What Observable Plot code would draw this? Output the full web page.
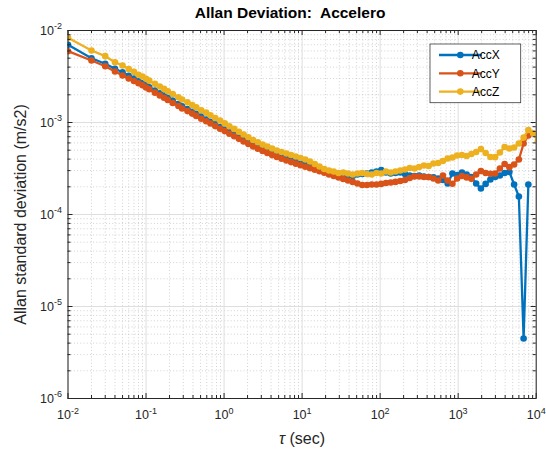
<!DOCTYPE html>
<html><head><meta charset="utf-8">
<script src="https://cdn.jsdelivr.net/npm/d3@7"></script>
<script src="https://cdn.jsdelivr.net/npm/@observablehq/plot@0.6"></script>
<style>body{margin:0;background:#fff;}</style>
</head><body><div id="chart"></div>
<script>
const tau = [0.01,0.02,0.03,0.04,0.05,0.06,0.07,0.08,0.09,0.10,0.11,0.13,0.15,0.17,0.19,0.22,0.26,0.29,0.34,0.39,
0.44,0.51,0.59,0.67,0.77,0.89,1.02,1.17,1.35,1.55,1.78,2.05,2.36,2.71,3.12,3.59,4.13,4.75,5.46,6.28,
7.22,8.31,9.55,10.99,12.64,14.54,16.72,19.23,22.13,25.45,29.28,33.68,38.74,44.57,51.26,58.97,67.83,78.03,89.76,103.25,
118.77,136.62,157.16,180.79,207.97,239.24,275.21,316.58,364.18,418.93,481.92,554.38,637.73,733.6,843.9,970.78,1116.74,1284.64,1477.78,1699.96,
1955.55,2249.57,2587.78,2976.85,3424.42,3939.27,4531.53,5212.83,5996.56,6898.12,7935.25,9128.3,10485.76];

const accX = [6.99e-3,5.00e-3,4.35e-3,3.84e-3,3.52e-3,3.22e-3,3.00e-3,2.80e-3,2.67e-3,2.53e-3,2.41e-3,2.22e-3,2.08e-3,1.96e-3,1.85e-3,1.73e-3,1.59e-3,1.50e-3,1.40e-3,1.31e-3,
1.24e-3,1.16e-3,1.08e-3,1.02e-3,9.54e-4,8.91e-4,8.37e-4,7.82e-4,7.33e-4,6.85e-4,6.40e-4,6.02e-4,5.64e-4,5.34e-4,5.06e-4,4.82e-4,4.59e-4,4.37e-4,4.21e-4,4.05e-4,
3.91e-4,3.77e-4,3.63e-4,3.50e-4,3.37e-4,3.24e-4,3.12e-4,3.01e-4,2.90e-4,2.83e-4,2.72e-4,2.69e-4,2.65e-4,2.62e-4,2.72e-4,2.76e-4,2.79e-4,2.86e-4,2.93e-4,3.05e-4,
2.86e-4,2.79e-4,2.83e-4,2.86e-4,2.76e-4,2.65e-4,2.62e-4,2.65e-4,2.59e-4,2.56e-4,2.53e-4,2.46e-4,2.37e-4,2.17e-4,2.79e-4,2.69e-4,2.86e-4,2.72e-4,2.56e-4,2.17e-4,
1.92e-4,2.15e-4,2.40e-4,2.56e-4,2.65e-4,2.83e-4,2.90e-4,2.12e-4,1.57e-4,4.49e-6,2.12e-4,null,null];

const accY = [5.96e-3,4.72e-3,4.09e-3,3.58e-3,3.24e-3,3.01e-3,2.83e-3,2.67e-3,2.54e-3,2.40e-3,2.30e-3,2.11e-3,1.97e-3,1.86e-3,1.76e-3,1.63e-3,1.51e-3,1.42e-3,1.33e-3,1.25e-3,
1.18e-3,1.10e-3,1.03e-3,9.75e-4,9.14e-4,8.56e-4,8.06e-4,7.56e-4,7.08e-4,6.64e-4,6.22e-4,5.84e-4,5.48e-4,5.19e-4,4.91e-4,4.66e-4,4.42e-4,4.21e-4,4.03e-4,3.86e-4,
3.71e-4,3.57e-4,3.43e-4,3.30e-4,3.18e-4,3.06e-4,2.95e-4,2.84e-4,2.72e-4,2.62e-4,2.53e-4,2.43e-4,2.34e-4,2.26e-4,2.17e-4,2.09e-4,2.09e-4,2.12e-4,2.12e-4,2.15e-4,
2.20e-4,2.23e-4,2.26e-4,2.31e-4,2.37e-4,2.49e-4,2.59e-4,2.59e-4,2.56e-4,2.56e-4,2.46e-4,2.34e-4,2.65e-4,2.34e-4,2.16e-4,2.46e-4,2.62e-4,2.53e-4,2.44e-4,2.72e-4,
2.97e-4,2.83e-4,2.77e-4,2.79e-4,3.16e-4,3.54e-4,3.27e-4,3.50e-4,3.96e-4,5.91e-4,7.22e-4,null,null];

const accZ = [8.33e-3,6.06e-3,5.26e-3,4.52e-3,4.17e-3,3.81e-3,3.55e-3,3.31e-3,3.16e-3,2.99e-3,2.85e-3,2.63e-3,2.46e-3,2.32e-3,2.19e-3,2.04e-3,1.88e-3,1.78e-3,1.66e-3,1.55e-3,
1.46e-3,1.36e-3,1.28e-3,1.20e-3,1.12e-3,1.05e-3,9.78e-4,9.12e-4,8.52e-4,7.94e-4,7.41e-4,6.92e-4,6.45e-4,6.09e-4,5.75e-4,5.48e-4,5.22e-4,4.96e-4,4.78e-4,4.60e-4,
4.43e-4,4.27e-4,4.11e-4,3.96e-4,3.77e-4,3.54e-4,3.32e-4,3.12e-4,3.01e-4,2.93e-4,2.83e-4,2.86e-4,2.79e-4,2.72e-4,2.79e-4,2.83e-4,2.76e-4,2.72e-4,2.83e-4,2.79e-4,
2.93e-4,2.86e-4,2.93e-4,3.01e-4,3.08e-4,3.20e-4,3.16e-4,3.28e-4,3.41e-4,3.37e-4,3.58e-4,3.63e-4,3.82e-4,4.06e-4,4.17e-4,4.38e-4,4.43e-4,4.32e-4,4.55e-4,4.78e-4,
5.15e-4,4.66e-4,4.22e-4,4.20e-4,4.72e-4,5.42e-4,5.22e-4,5.35e-4,5.91e-4,6.87e-4,8.29e-4,7.65e-4,6.26e-4];

const seriesNames = ["AccX", "AccY", "AccZ"];
const seriesColors = ["#0072BD", "#D95319", "#EDB120"];
const xTicks = [1e-2, 1e-1, 1, 10, 100, 1000, 1e4];
const yTicks = [1e-6, 1e-5, 1e-4, 1e-3, 1e-2];
const xTickLabels = ["10^-2", "10^-1", "10^0", "10^1", "10^2", "10^3", "10^4"];
const yTickLabels = ["10^-6", "10^-5", "10^-4", "10^-3", "10^-2"];
const titleText = "Allan Deviation:  Accelero";
const xLabelText = "τ (sec)";
const yLabelText = "Allan standard deviation (m/s2)";

const W = 546, H = 450, mt = 30, mb = 52, ml = 67.5, mr = 10.3;
const fh = H - mt - mb, fw = W - ml - mr;
const font = '"Liberation Sans", Arial, Helvetica, sans-serif';

const isDecade = v => Math.abs(Math.log10(v) - Math.round(Math.log10(v))) < 1e-9;
const minorX = d3.scaleLog().domain([1e-2, 1e4]).ticks().filter(v => !isDecade(v));
const minorY = d3.scaleLog().domain([1e-6, 1e-2]).ticks().filter(v => !isDecade(v));

const seriesData = [accX, accY, accZ].map((vals, i) =>
  tau.map((t, j) => ({tau: t, value: vals[j], series: seriesNames[i]})).filter(d => d.value != null));

const axisCol = "#262626";
const marks = [
  Plot.ruleX(minorX, {stroke: "#c6c6c6", strokeWidth: 0.8, strokeDasharray: "1,2.2"}),
  Plot.ruleY(minorY, {stroke: "#c6c6c6", strokeWidth: 0.8, strokeDasharray: "1,2.2"}),
  Plot.ruleX(xTicks, {stroke: "#dedede", strokeWidth: 1}),
  Plot.ruleY(yTicks, {stroke: "#dedede", strokeWidth: 1}),
];
seriesData.forEach((d, i) => {
  marks.push(Plot.line(d, {x: "tau", y: "value", stroke: seriesColors[i], strokeWidth: 2.3, clip: true}));
  marks.push(Plot.dot(d, {x: "tau", y: "value", fill: seriesColors[i], r: 3.3, clip: true}));
});
marks.push(
  Plot.tickX(xTicks, {x: d => d, insetTop: fh - 5, stroke: axisCol}),
  Plot.tickX(xTicks, {x: d => d, insetBottom: fh - 5, stroke: axisCol}),
  Plot.tickX(minorX, {x: d => d, insetTop: fh - 3, stroke: axisCol}),
  Plot.tickX(minorX, {x: d => d, insetBottom: fh - 3, stroke: axisCol}),
  Plot.tickY(yTicks, {y: d => d, insetRight: fw - 5, stroke: axisCol}),
  Plot.tickY(yTicks, {y: d => d, insetLeft: fw - 5, stroke: axisCol}),
  Plot.tickY(minorY, {y: d => d, insetRight: fw - 3, stroke: axisCol}),
  Plot.tickY(minorY, {y: d => d, insetLeft: fw - 3, stroke: axisCol}),
  Plot.frame({stroke: axisCol, strokeWidth: 1}),
  Plot.axisX(xTicks, {label: null, tickSize: 0, tickPadding: 12, fontSize: 12.5, tickFormat: d => xTickLabels[xTicks.indexOf(d)], fill: axisCol}),
  Plot.axisY(yTicks, {label: null, tickSize: 0, tickPadding: 6, fontSize: 12.5, tickFormat: d => yTickLabels[yTicks.indexOf(d)], fill: axisCol}),
  Plot.text([titleText], {frameAnchor: "top", lineAnchor: "middle", dy: -17, dx: -12, fontSize: 15.5, fontWeight: "bold", fill: "#000"}),
  Plot.text([xLabelText], {frameAnchor: "bottom", lineAnchor: "middle", dy: 40, fontSize: 16, fill: axisCol}),
  Plot.text([yLabelText], {frameAnchor: "left", textAnchor: "middle", lineAnchor: "middle", rotate: -90, dx: -47.5, fontSize: 16, fill: axisCol})
);

const chart = Plot.plot({
  width: W, height: H, marginTop: mt, marginBottom: mb, marginLeft: ml, marginRight: mr,
  x: {type: "log", domain: [1e-2, 1e4], label: null},
  y: {type: "log", domain: [1e-6, 1e-2], label: null},
  style: {fontFamily: font, background: "#fff", overflow: "visible"},
  marks
});
document.getElementById("chart").appendChild(chart);

const svg = d3.select(chart);
svg.selectAll('g[aria-label="x-axis tick label"] text, g[aria-label="y-axis tick label"] text').each(function () {
  const parts = this.textContent.split("^");
  if (parts.length === 2) {
    const t = d3.select(this);
    t.text(null);
    t.append("tspan").text(parts[0]);
    t.append("tspan").attr("font-size", 9).attr("dy", -5.5).text(parts[1]);
  }
});
svg.selectAll("text").each(function () {
  if (this.textContent === xLabelText) {
    const t = d3.select(this);
    t.text(null);
    t.append("tspan").attr("font-style", "italic").text("τ");
    t.append("tspan").text(" (sec)");
  }
});

// legend
const lx = 430, ly = 44, lw = 90.7, lh = 58.7;
const lg = svg.append("g").attr("font-family", font);
lg.append("rect").attr("x", lx).attr("y", ly).attr("width", lw).attr("height", lh)
  .attr("fill", "#fff").attr("stroke", "#3a3a3a").attr("stroke-width", 0.8);
seriesNames.forEach((name, i) => {
  const yy = ly + 11 + i * 18.3;
  lg.append("line").attr("x1", lx + 9).attr("x2", lx + 51.7).attr("y1", yy).attr("y2", yy)
    .attr("stroke", seriesColors[i]).attr("stroke-width", 2.3);
  lg.append("circle").attr("cx", lx + 30.3).attr("cy", yy).attr("r", 3.3).attr("fill", seriesColors[i]);
  lg.append("text").attr("x", lx + 55.7).attr("y", yy + 4.3).attr("font-size", 12).attr("fill", "#000").text(name);
});
</script>
</body></html>
